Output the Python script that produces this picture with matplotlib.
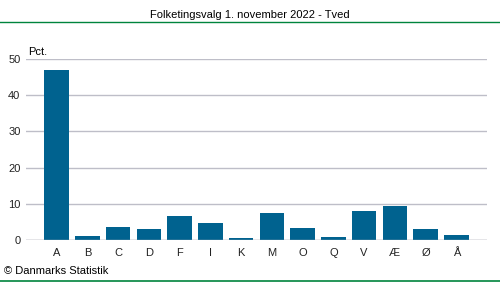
import matplotlib.pyplot as plt
from matplotlib.lines import Line2D

plt.rcParams['font.family'] = ['Liberation Sans', 'DejaVu Sans']

parties = ['A', 'B', 'C', 'D', 'F', 'I', 'K', 'M', 'O', 'Q', 'V', 'Æ', 'Ø', 'Å']
pct = [47.0, 1.1, 3.6, 3.0, 6.6, 4.7, 0.55, 7.5, 3.3, 0.8, 8.0, 9.4, 3.0, 1.4]
yticks = [0, 10, 20, 30, 40, 50]

fig = plt.figure(figsize=(5, 2.82), dpi=100)
ax = fig.add_axes([26 / 500, 1 - 240 / 282, 461 / 500, 181 / 282])

ax.bar(range(len(parties)), pct, width=0.8, color='#00628f', zorder=2)
ax.set_xlim(-1, len(parties))
ax.set_ylim(0, 50)
ax.set_yticks(yticks)
ax.set_xticks(range(len(parties)))
ax.set_xticklabels(parties)
ax.grid(axis='y', color='#bebec8', linewidth=1, zorder=0)
ax.tick_params(length=0, labelsize=8, colors='#222222', pad=6)
ax.tick_params(axis='y', pad=4)
for s in ax.spines.values():
    s.set_visible(False)
ax.axhline(0, color='#b0b0b8', linewidth=1, zorder=3)

fig.text(0.5, 1 - 15 / 282, 'Folketingsvalg 1. november 2022 - Tved',
         ha='center', va='center', fontsize=8)
fig.add_artist(Line2D([0, 1], [1 - 22 / 282] * 2, color='#00843d', linewidth=1))
fig.add_artist(Line2D([0, 1], [1 - 281 / 282] * 2, color='#00843d', linewidth=1.2))
fig.text(28 / 500, 1 - 52 / 282, 'Pct.', ha='left', va='center', fontsize=8)
fig.text(4 / 500, 1 - 271 / 282, '© Danmarks Statistik', ha='left', va='center', fontsize=8)

fig.savefig('out.png', dpi=100)
